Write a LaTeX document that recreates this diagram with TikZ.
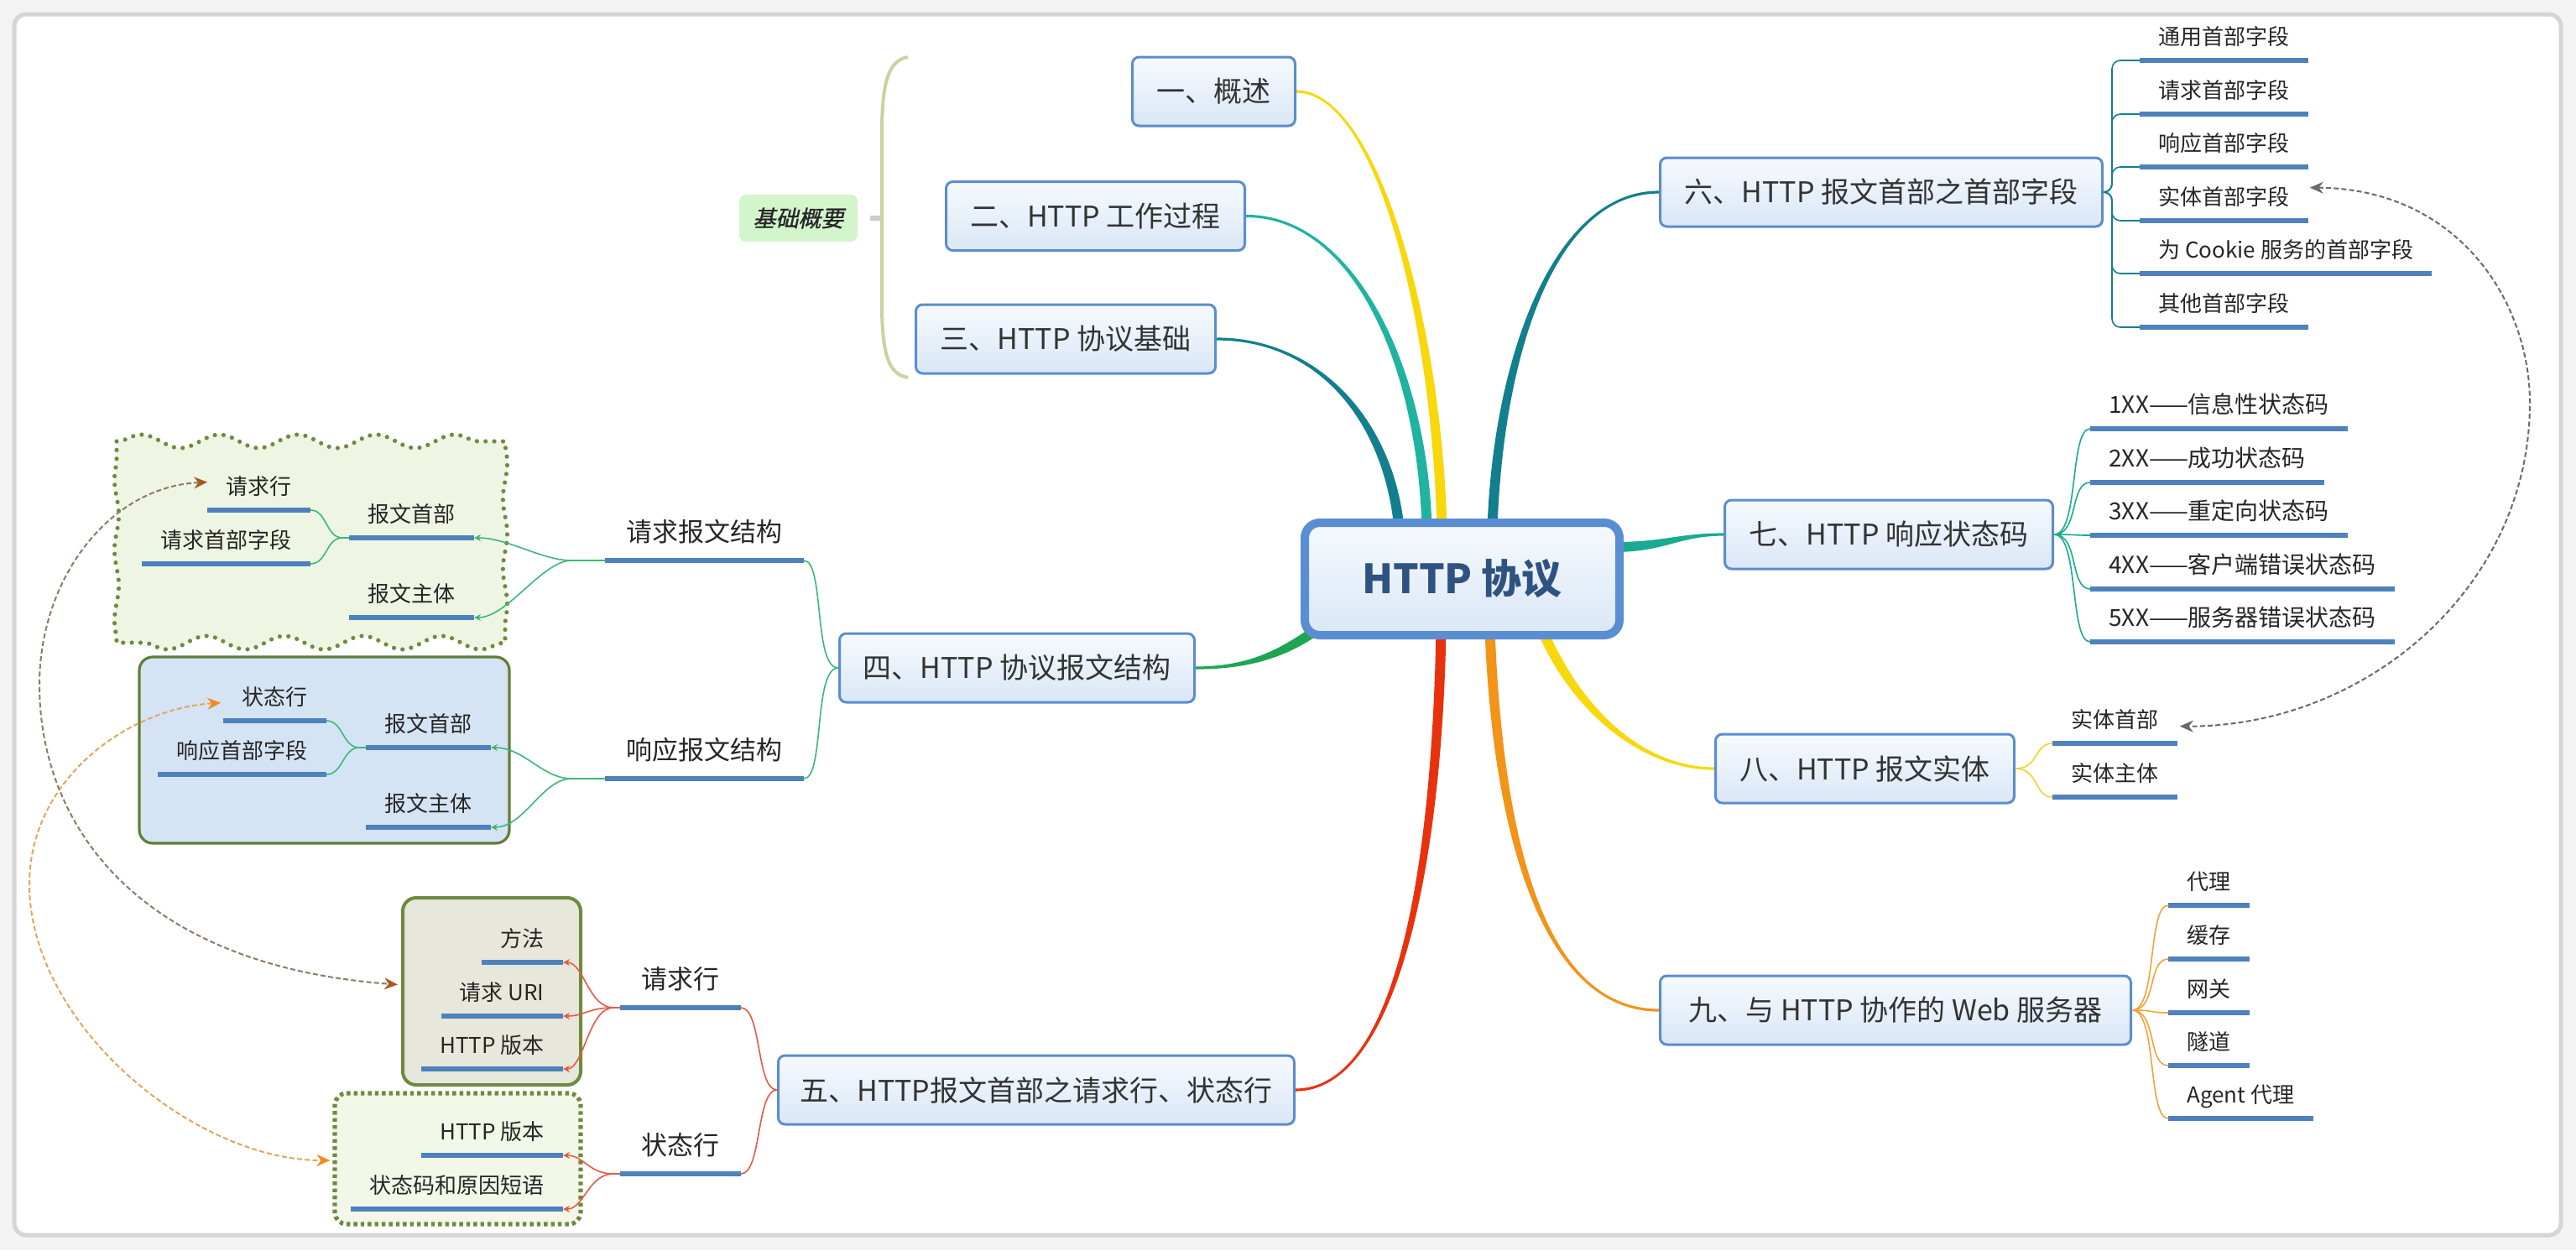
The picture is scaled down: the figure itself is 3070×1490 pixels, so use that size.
\documentclass[tikz,border=0pt]{standalone}
\usepackage{fontspec}
\setmainfont{Noto Sans CJK SC}
\newfontfamily\slfont{Noto Sans CJK SC}[FakeSlant=0.22,FakeBold=1]
\usetikzlibrary{calc,arrows.meta,decorations.pathmorphing}
\pgfdeclarelayer{back}\pgfdeclarelayer{mid}\pgfsetlayers{back,mid,main}

\definecolor{bggray}{HTML}{F3F3F3}
\definecolor{framec}{HTML}{D5D5D5}
\definecolor{boxline}{HTML}{5B8DCF}
\definecolor{boxtop}{HTML}{F6FAFE}
\definecolor{boxbot}{HTML}{DAE7F6}
\definecolor{hubline}{HTML}{5A8ED3}
\definecolor{hubtext}{HTML}{2F5282}
\definecolor{textc}{HTML}{333333}
\definecolor{ulc}{HTML}{4F81BD}
\definecolor{cyellow}{HTML}{F8D80A}
\definecolor{cteal}{HTML}{1FB3A0}
\definecolor{cdteal}{HTML}{127F8E}
\definecolor{cgreen}{HTML}{1FA551}
\definecolor{cred}{HTML}{E8320E}
\definecolor{cteal7}{HTML}{1AAA92}
\definecolor{corange}{HTML}{F39318}
\definecolor{lgreen}{HTML}{3CB878}
\definecolor{lred}{HTML}{E55A45}
\definecolor{lyellow}{HTML}{F2D230}
\definecolor{lorange}{HTML}{F2A33A}
\definecolor{olivec}{HTML}{6E8B3D}
\definecolor{cloudfill}{HTML}{EEF5E2}
\definecolor{bluefill}{HTML}{D5E4F4}
\definecolor{grayfill}{HTML}{E7E7DB}
\definecolor{dotfill}{HTML}{F2F7E8}
\definecolor{bracec}{HTML}{C9D39E}
\definecolor{jgreen}{HTML}{D3F5CC}
\definecolor{arrgray}{HTML}{6A6A6A}
\definecolor{arrbrown}{HTML}{8E7A66}
\definecolor{headbrown}{HTML}{A55A22}
\definecolor{arrorange}{HTML}{E4A460}
\definecolor{headorange}{HTML}{F28A1A}

\tikzset{
  mainbox/.style={draw=boxline, line width=1.5pt, rounded corners=4pt, top color=boxtop, bottom color=boxbot,
    text=textc, font=\fontsize{17pt}{20pt}\selectfont, minimum height=41pt, inner xsep=6pt, inner ysep=0pt},
  hubbox/.style={draw=hubline, line width=5pt, rounded corners=9pt, top color=boxtop, bottom color=boxbot,
    text=hubtext, font=\fontsize{24pt}{28pt}\selectfont\bfseries, minimum width=187.5pt, minimum height=67pt},
  leaf/.style={text=black!85, font=\fontsize{13pt}{15pt}\selectfont, inner xsep=11pt, inner ysep=6pt,
    text height=10pt, text depth=3pt},
  leafb/.style={leaf, font=\fontsize{14pt}{16pt}\selectfont, text height=11pt, text depth=3pt},
  midleaf/.style={text=black!85, font=\fontsize{15.5pt}{18pt}\selectfont, inner xsep=12.5pt, inner ysep=7.5pt,
    text height=12pt, text depth=3.5pt},
  uline/.style={draw=ulc, line width=3pt},
  smalltip/.style={-{Stealth[length=4pt,width=4pt]}},
  c4/.style={draw=lgreen, line width=0.8pt},
  c5/.style={draw=lred, line width=0.8pt},
  c6/.style={draw=cdteal, line width=0.8pt},
  c7/.style={draw=cteal7, line width=0.8pt},
  c8/.style={draw=lyellow, line width=0.8pt},
  c9/.style={draw=lorange, line width=0.8pt},
  cloudpath/.style={fill=cloudfill, draw=olivec, line width=2.6pt, dash pattern=on 0pt off 5.2pt, line cap=round},
  wavetb/.style={decoration={snake, amplitude=4pt, segment length=46.7pt}},
  wavelr/.style={decoration={snake, amplitude=1.3pt, segment length=42pt}},
  bluebox/.style={fill=bluefill, draw=olivec!90!black, line width=1.6pt, rounded corners=8pt, inner sep=0pt},
  graybox/.style={fill=grayfill, draw=olivec, line width=2pt, rounded corners=8pt, inner sep=0pt},
  dotbox/.style={fill=dotfill, draw=olivec, line width=2.6pt, dash pattern=on 2.2pt off 2pt, rounded corners=7pt, inner sep=0pt},
  dasharr/.style={line width=1pt, dash pattern=on 3pt off 1.6pt},
}

\newcommand\mbranch[5]{%
  \path #2 coordinate (bp0) #3 coordinate (bc1) #4 coordinate (bc2) #5 coordinate (bp3);
  \path ($(bp0)!0.8pt!90:(bc1)$) coordinate (bp0l)
        ($(bp0)!0.8pt!-90:(bc1)$) coordinate (bp0r)
        ($(bp3)!3pt!-90:(bc2)$) coordinate (bp3l)
        ($(bp3)!3pt!90:(bc2)$) coordinate (bp3r);
  \fill[#1] (bp0l) .. controls ($(bc1)+(bp0l)-(bp0)$) and ($(bc2)+(bp3l)-(bp3)$) .. (bp3l)
    -- (bp3r) .. controls ($(bc2)+(bp3r)-(bp3)$) and ($(bc1)+(bp0r)-(bp0)$) .. (bp0r) -- cycle;
}

\begin{document}
\begin{tikzpicture}[x=0.5pt, y=-0.5pt]
\useasboundingbox (0,0) rectangle (3070,1490);
\begin{pgfonlayer}{back}
  \fill[bggray] (0,0) rectangle (3070,1490);
  \draw[framec, line width=2.5pt, fill=white, rounded corners=7pt] (17,17) rectangle (3052,1472);
\end{pgfonlayer}

% group boxes
\path[cloudpath] (139,526) decorate[wavetb] {-- (602,526)} decorate[wavelr] {-- (602,766)}
  decorate[wavetb] {-- (139,766)} decorate[wavelr] {-- (139,526)};
\node[bluebox, minimum width=220.5pt, minimum height=111pt] (bbox) at (386.5,894) {};
\node[graybox, minimum width=106pt, minimum height=111.5pt] (gbox) at (586,1181.5) {};
\node[dotbox, minimum width=146.5pt, minimum height=78pt] (dbox) at (545.5,1381) {};

% hub and main topics
\node[hubbox] (hub) at (1742.5,690) {HTTP 协议};
\node[mainbox, minimum width=97pt, anchor=east] (one) at (1545,109) {一、概述};
\node[mainbox, minimum width=178pt, anchor=east] (two) at (1485,257.5) {二、HTTP 工作过程};
\node[mainbox, minimum width=178.5pt, anchor=east] (three) at (1450,404) {三、HTTP 协议基础};
\node[mainbox, minimum width=211.5pt, anchor=east] (four) at (1425,796) {四、HTTP 协议报文结构};
\node[mainbox, minimum width=307.5pt, anchor=east] (five) at (1544,1299) {五、HTTP报文首部之请求行、状态行};
\node[mainbox, minimum width=263.5pt, anchor=west] (six) at (1977,229) {六、HTTP 报文首部之首部字段};
\node[mainbox, minimum width=195.5pt, anchor=west] (seven) at (2054,637) {七、HTTP 响应状态码};
\node[mainbox, minimum width=178pt, anchor=west] (eight) at (2043,916) {八、HTTP 报文实体};
\node[mainbox, minimum width=280.5pt, anchor=west] (nine) at (1977,1204) {九、与 HTTP 协作的 Web 服务器};

% summary label and brace
\node[fill=jgreen, rounded corners=4pt, minimum width=70.5pt, minimum height=28pt, inner sep=0pt,
  font=\slfont\fontsize{13.5pt}{16pt}\selectfont, text=black!85] (jichu) at (951.5,260) {基础概要};
\draw[bracec, line width=2pt] (1082,68) .. controls (1058,72) and (1052,100) .. (1051,150) -- (1051,370)
  .. controls (1052,420) and (1058,446) .. (1082,450);
\draw[black!20, line width=3pt] ($(jichu.east)+(15,0)$) -- ($(jichu.east)+(27,0)$);

% right leaves
\node[leaf, anchor=south west] (n61) at (2550,72) {通用首部字段};
\node[leaf, anchor=south west] (n62) at (2550,136) {请求首部字段};
\node[leaf, anchor=south west] (n63) at (2550,199) {响应首部字段};
\node[leaf, anchor=south west] (n64) at (2550,263) {实体首部字段};
\node[leaf, anchor=south west] (n65) at (2550,326) {为 Cookie 服务的首部字段};
\node[leaf, anchor=south west] (n66) at (2550,390) {其他首部字段};

\node[leafb, anchor=south west] (n71) at (2491,511) {1XX——信息性状态码};
\node[leafb, anchor=south west] (n72) at (2491,575) {2XX——成功状态码};
\node[leafb, anchor=south west] (n73) at (2491,638) {3XX——重定向状态码};
\node[leafb, anchor=south west] (n74) at (2491,702) {4XX——客户端错误状态码};
\node[leafb, anchor=south west] (n75) at (2491,765) {5XX——服务器错误状态码};

\node[leaf, anchor=south west] (n81) at (2446,886) {实体首部};
\node[leaf, anchor=south west] (n82) at (2446,950) {实体主体};

\node[leaf, anchor=south west] (n91) at (2584,1079) {代理};
\node[leaf, anchor=south west] (n92) at (2584,1143) {缓存};
\node[leaf, anchor=south west] (n93) at (2584,1207) {网关};
\node[leaf, anchor=south west] (n94) at (2584,1270) {隧道};
\node[leaf, anchor=south west] (n95) at (2584,1333) {Agent 代理};

% left leaves
\node[midleaf, anchor=south east] (n41) at (958,668) {请求报文结构};
\node[midleaf, anchor=south east] (n42) at (958,928) {响应报文结构};
\node[leaf, anchor=south east] (n411) at (565,641) {报文首部};
\node[leaf, anchor=south east] (n412) at (565,736) {报文主体};
\node[leaf, anchor=south east] (rq1) at (370,608) {请求行};
\node[leaf, anchor=south east] (rq2) at (370,672) {请求首部字段};
\node[leaf, anchor=south east] (n421) at (585,891) {报文首部};
\node[leaf, anchor=south east] (n422) at (585,986) {报文主体};
\node[leaf, anchor=south east] (rs1) at (389,859) {状态行};
\node[leaf, anchor=south east] (rs2) at (389,923) {响应首部字段};

\node[midleaf, anchor=south east] (n51) at (883,1201) {请求行};
\node[midleaf, anchor=south east] (n52) at (883,1399) {状态行};
\node[leaf, anchor=south east] (n511) at (671,1147) {方法};
\node[leaf, anchor=south east] (n512) at (671,1211) {请求 URI};
\node[leaf, anchor=south east] (n513) at (671,1274) {HTTP 版本};
\node[leaf, anchor=south east] (n521) at (671,1377) {HTTP 版本};
\node[leaf, anchor=south east] (n522) at (671,1441) {状态码和原因短语};

% underlines
\foreach \n in {n61,n62,n63,n64,n65,n66,n71,n72,n73,n74,n75,n81,n82,n91,n92,n93,n94,n95,
  n41,n42,n411,n412,rq1,rq2,n421,n422,rs1,rs2,n51,n52,n511,n512,n513,n521,n522}
  \draw[uline] (\n.south west) -- (\n.south east);

% main branches
\begin{pgfonlayer}{mid}
\mbranch{cyellow}{(one.east)}{(1640,109)}{(1712,380)}{($(hub.north)+(-24,12)$)}
\mbranch{cteal}{(two.east)}{(1610,257)}{(1695,430)}{($(hub.north)+(-42,12)$)}
\mbranch{cdteal}{(three.east)}{(1570,404)}{(1655,500)}{($(hub.north)+(-75,12)$)}
\mbranch{cgreen}{(four.east)}{(1490,796)}{(1530,778)}{($(hub.south west)+(20,-12)$)}
\mbranch{cred}{(five.east)}{(1660,1299)}{(1712,1050)}{($(hub.south)+(-25,-12)$)}
\mbranch{cdteal}{(six.west)}{(1850,229)}{(1785,430)}{($(hub.north)+(36,12)$)}
\mbranch{cteal7}{(seven.west)}{(2000,637)}{(1985,652)}{($(hub.east)+(-12,-38)$)}
\mbranch{cyellow}{(eight.west)}{(1960,916)}{(1880,850)}{($(hub.south)+(95,-12)$)}
\mbranch{corange}{(nine.west)}{(1840,1204)}{(1785,1000)}{($(hub.south)+(33,-12)$)}
\end{pgfonlayer}

% sub connectors right
\foreach \n in {n61,n62,n63,n64,n65,n66}
  \draw[c6, rounded corners=5pt] (six.east) -- ++(10,0) |- (\n.south west);
\foreach \n in {n71,n72,n73,n74,n75}
  \draw[c7] (seven.east) .. controls +(30,0) and +(-25,0) .. (\n.south west);
\foreach \n in {n81,n82}
  \draw[c8] (eight.east) .. controls +(28,0) and +(-22,0) .. (\n.south west);
\foreach \n in {n91,n92,n93,n94,n95}
  \draw[c9] (nine.east) .. controls +(30,0) and +(-25,0) .. (\n.south west);

% sub connectors left
\foreach \n in {n41,n42}
  \draw[c4] (four.west) .. controls +(-30,0) and +(25,0) .. (\n.south east);
\foreach \n in {n411,n412}
  \draw[c4, smalltip] (n41.south west) -- ++(-40,0) .. controls +(-35,0) and +(40,0) .. (\n.south east);
\foreach \n in {rq1,rq2}
  \draw[c4] (n411.south west) -- ++(-8,0) .. controls +(-20,0) and +(20,0) .. (\n.south east);
\foreach \n in {n421,n422}
  \draw[c4, smalltip] (n42.south west) -- ++(-40,0) .. controls +(-35,0) and +(40,0) .. (\n.south east);
\foreach \n in {rs1,rs2}
  \draw[c4] (n421.south west) -- ++(-8,0) .. controls +(-20,0) and +(20,0) .. (\n.south east);
\foreach \n in {n51,n52}
  \draw[c5] (five.west) .. controls +(-25,0) and +(25,0) .. (\n.south east);
\foreach \n in {n511,n512,n513}
  \draw[c5, smalltip] (n51.south west) -- ++(-8,0) .. controls +(-30,0) and +(25,0) .. (\n.south east);
\foreach \n in {n521,n522}
  \draw[c5, smalltip] (n52.south west) -- ++(-8,0) .. controls +(-30,0) and +(25,0) .. (\n.south east);

% dashed relation arrows
\draw[arrgray, dasharr, {Stealth[length=8pt,width=7pt]}-{Stealth[length=8pt,width=7pt]}]
  ($(n64.east)+(2,-14)$) .. controls (2930,225) and (3015,360) .. (3015,480)
  .. controls (3015,700) and (2820,866) .. ($(n81.east)+(3,5)$);
\draw[arrbrown, dasharr, {Stealth[length=8pt,width=7pt,color=headbrown]}-{Stealth[length=8pt,width=7pt,color=headbrown]}]
  ($(rq1.west)+(0,-8)$) .. controls (130,580) and (47,690) .. (47,816)
  .. controls (47,980) and (160,1150) .. ($(gbox.west)+(-4,-8)$);
\draw[arrorange, dasharr, {Stealth[length=8pt,width=7pt,color=headorange]}-{Stealth[length=8pt,width=7pt,color=headorange]}]
  ($(rs1.west)+(-3,4)$) .. controls (150,845) and (35,930) .. (35,1054)
  .. controls (35,1220) and (230,1383) .. ($(dbox.west)+(-3,2)$);
\end{tikzpicture}
\end{document}
